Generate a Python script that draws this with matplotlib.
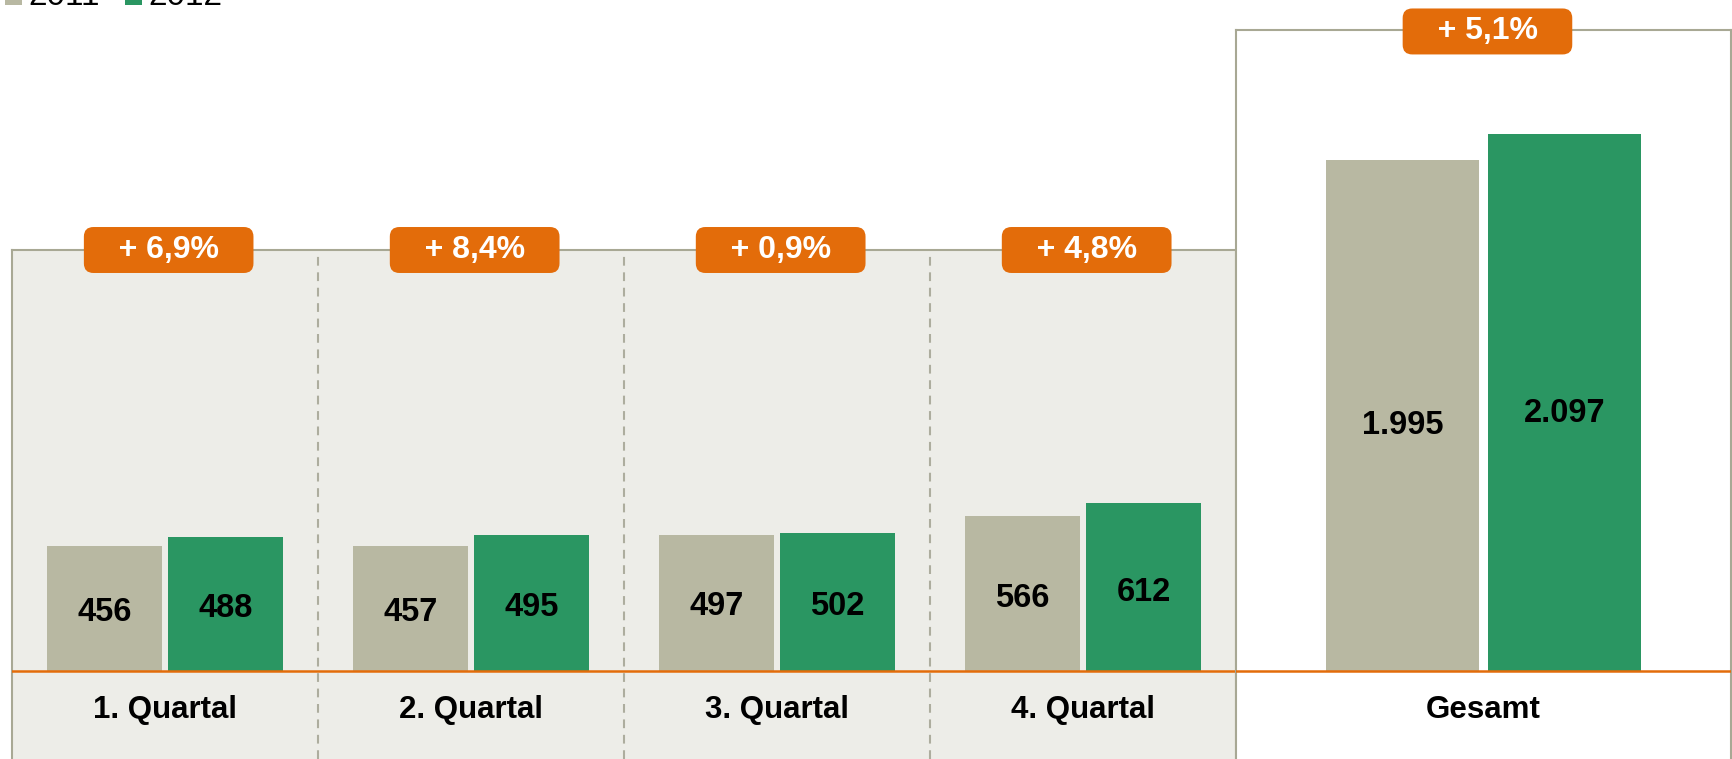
import matplotlib
matplotlib.use("Agg")
import matplotlib.pyplot as plt
from matplotlib.transforms import blended_transform_factory

plt.rcParams['font.family'] = ['Liberation Sans', 'DejaVu Sans']

# daten
quartale = ["1. Quartal", "2. Quartal", "3. Quartal", "4. Quartal"]
werte_2011 = [456, 457, 497, 566]
werte_2012 = [488, 495, 502, 612]
aenderung = ["+ 6,9%", "+ 8,4%", "+ 0,9%", "+ 4,8%"]
gesamt_label = "Gesamt"
gesamt_2011 = 1995
gesamt_2012 = 2097
gesamt_aenderung = "+ 5,1%"
jahre = ["2011", "2012"]

def fmt(v):
    return f"{v:,}".replace(",", ".")

def badge(v):
    # breitere orange box ueber leerzeichen
    return "   " + v + "   "

# farben
GRAU = "#B8B8A2"
GRUEN = "#2A9662"
ORANGE = "#E36C0A"
RAHMEN = "#A8A894"
HINTERGRUND = "#EDEDE8"

W, H = 1733, 759
fig = plt.figure(figsize=(W / 100, H / 100), dpi=100)

ax = fig.add_axes([12 / W, 0, (1236 - 12) / W, (H - 250) / H])
ax2 = fig.add_axes([1236 / W, 0, (1731 - 1236) / W, (H - 30) / H])

box = dict(boxstyle="round,pad=0.25,rounding_size=0.3", fc=ORANGE, ec="none")

# linker bereich: quartale
ax.set_facecolor(HINTERGRUND)
xc = [i + 0.5 for i in range(len(quartale))]
b1 = ax.bar([c - 0.198 for c in xc], werte_2011, width=0.375, color=GRAU, zorder=2)
b2 = ax.bar([c + 0.198 for c in xc], werte_2012, width=0.375, color=GRUEN, zorder=2)
ax.set_xlim(0, len(quartale))
ax.set_ylim(-320.9, 1535.4)
ax.axhline(0, color=ORANGE, lw=1.8, zorder=3)
for i in range(1, len(quartale)):
    ax.axvline(i, color="#ADAD9E", lw=1.5, ls=(0, (4.2, 3.2)), zorder=1)

tr = blended_transform_factory(ax.transData, ax.transAxes)
for c, v1, v2, lab, ch in zip(xc, werte_2011, werte_2012, quartale, aenderung):
    ax.text(c - 0.198, v1 * 0.47, fmt(v1), ha="center", va="center",
            fontsize=23.5, fontweight="bold", zorder=4)
    ax.text(c + 0.198, v2 * 0.47, fmt(v2), ha="center", va="center",
            fontsize=23.5, fontweight="bold", zorder=4)
    ax.annotate(lab, xy=(c, 0), xytext=(0, -28), textcoords="offset points",
                ha="center", va="center", fontsize=22.5, fontweight="bold")
    ax.text(c + 0.012, 1.0, badge(ch), transform=tr, ha="center", va="center",
            color="white", fontsize=23, fontweight="bold", zorder=5, bbox=box)

# rechter bereich: gesamt
ax2.set_facecolor("white")
ax2.bar(0.5 - 0.164, gesamt_2011, width=0.31, color=GRAU, zorder=2)
ax2.bar(0.5 + 0.164, gesamt_2012, width=0.31, color=GRUEN, zorder=2)
ax2.set_xlim(0, 1)
ax2.set_ylim(-343.6, 2503)
ax2.axhline(0, color=ORANGE, lw=1.8, zorder=3)
ax2.text(0.5 - 0.164, gesamt_2011 * 0.48, fmt(gesamt_2011), ha="center",
         va="center", fontsize=23.5, fontweight="bold")
ax2.text(0.5 + 0.164, gesamt_2012 * 0.48, fmt(gesamt_2012), ha="center",
         va="center", fontsize=23.5, fontweight="bold")
ax2.annotate(gesamt_label, xy=(0.5, 0), xytext=(0, -28), textcoords="offset points",
             ha="center", va="center", fontsize=22.5, fontweight="bold")
ax2.text(0.508, 0.998, badge(gesamt_aenderung), transform=ax2.transAxes,
         ha="center", va="center", color="white", fontsize=23,
         fontweight="bold", zorder=5, bbox=box)

for a in (ax, ax2):
    a.set_xticks([])
    a.set_yticks([])
    a.spines["bottom"].set_visible(False)
    for s in ("top", "left", "right"):
        a.spines[s].set_color(RAHMEN)
        a.spines[s].set_linewidth(1.5)

fig.legend([b1, b2], jahre, loc="lower left", bbox_to_anchor=(5 / W, 1 - 12 / H),
           ncol=2, frameon=False, fontsize=24, borderpad=0, borderaxespad=0,
           handlelength=0.51, handleheight=0.7, handletextpad=0.2,
           columnspacing=0.75)

fig.savefig("out.png", dpi=100)
